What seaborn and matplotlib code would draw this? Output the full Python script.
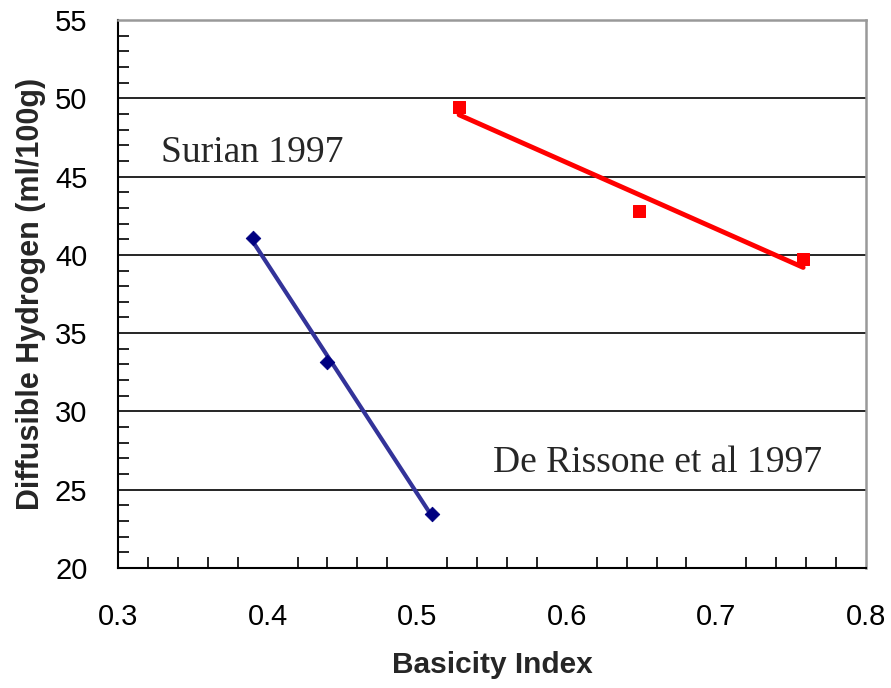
import numpy as np
import pandas as pd
import matplotlib
matplotlib.use("Agg")
import matplotlib.pyplot as plt
import seaborn as sns
from matplotlib.ticker import MultipleLocator

# Data
rissone_x = [0.39, 0.44, 0.51]
rissone_y = [41.1, 33.15, 23.45]
surian_x = [0.528, 0.648, 0.758]
surian_y = [49.45, 42.8, 39.75]

x_ticks = [0.3, 0.4, 0.5, 0.6, 0.7, 0.8]
y_ticks = [20, 25, 30, 35, 40, 45, 50, 55]

sns.set_theme(style="white")
plt.rcParams['font.family'] = ['Liberation Sans', 'DejaVu Sans']

fig = plt.figure(figsize=(8.91, 6.88), dpi=100)
ax = fig.add_axes([118/891, 1-568/688, (866-118)/891, (568-20)/688])

df_r = pd.DataFrame({"x": rissone_x, "y": rissone_y})
df_s = pd.DataFrame({"x": surian_x, "y": surian_y})

# horizontal gridlines
for yv in y_ticks[1:-1]:
    ax.axhline(yv, color="black", lw=1.2, zorder=1)

sns.regplot(data=df_r, x="x", y="y", ax=ax, ci=None, scatter=False, truncate=True,
            line_kws=dict(color="#333399", lw=3, zorder=3))
sns.regplot(data=df_s, x="x", y="y", ax=ax, ci=None, scatter=False, truncate=True,
            line_kws=dict(color="#ff0000", lw=3.5, zorder=3))
sns.scatterplot(data=df_r, x="x", y="y", ax=ax, marker="D", s=55, color="#000080",
                edgecolor="#000080", zorder=4)
sns.scatterplot(data=df_s, x="x", y="y", ax=ax, marker="s", s=80, color="#ff0000",
                edgecolor="#ff0000", zorder=4)

ax.set_xlim(0.3, 0.8)
ax.set_ylim(20, 55)
ax.set_xticks(x_ticks)
ax.set_yticks(y_ticks)
ax.set_xticklabels([f"{v:g}" for v in x_ticks])
ax.set_yticklabels([str(v) for v in y_ticks])
ax.xaxis.set_minor_locator(MultipleLocator(0.02))
ax.yaxis.set_minor_locator(MultipleLocator(1))

ax.tick_params(axis="both", which="major", labelsize=21, colors="black",
               width=1.2)
ax.tick_params(axis="x", which="major", direction="inout", length=20, pad=15)
ax.tick_params(axis="y", which="major", direction="out", length=10, pad=12)
ax.tick_params(axis="both", which="minor", direction="in", length=8, width=1.2,
               color="black", left=True, bottom=True)

for s in ["left", "bottom"]:
    ax.spines[s].set_color("black")
    ax.spines[s].set_linewidth(1.5)
for s in ["top", "right"]:
    ax.spines[s].set_color("#999999")
    ax.spines[s].set_linewidth(1.8)

ax.set_xlabel("Basicity Index", fontsize=21.5, fontweight="bold")
ax.set_ylabel("Diffusible Hydrogen (ml/100g)", fontsize=22, fontweight="bold")
ax.xaxis.set_label_coords(0.5, (568-665)/548)
ax.xaxis.label.set_va("center")
ax.yaxis.set_label_coords((31-118)/748, 0.5)
ax.yaxis.label.set_va("center")

ax.text(0.329, 46.5, "Surian 1997", fontsize=27, family=["Liberation Serif", "DejaVu Serif"],
        ha="left", va="center")
ax.text(0.551, 26.75, "De Rissone et al 1997", fontsize=27,
        family=["Liberation Serif", "DejaVu Serif"], ha="left", va="center")

fig.savefig("out.png", dpi=100)
